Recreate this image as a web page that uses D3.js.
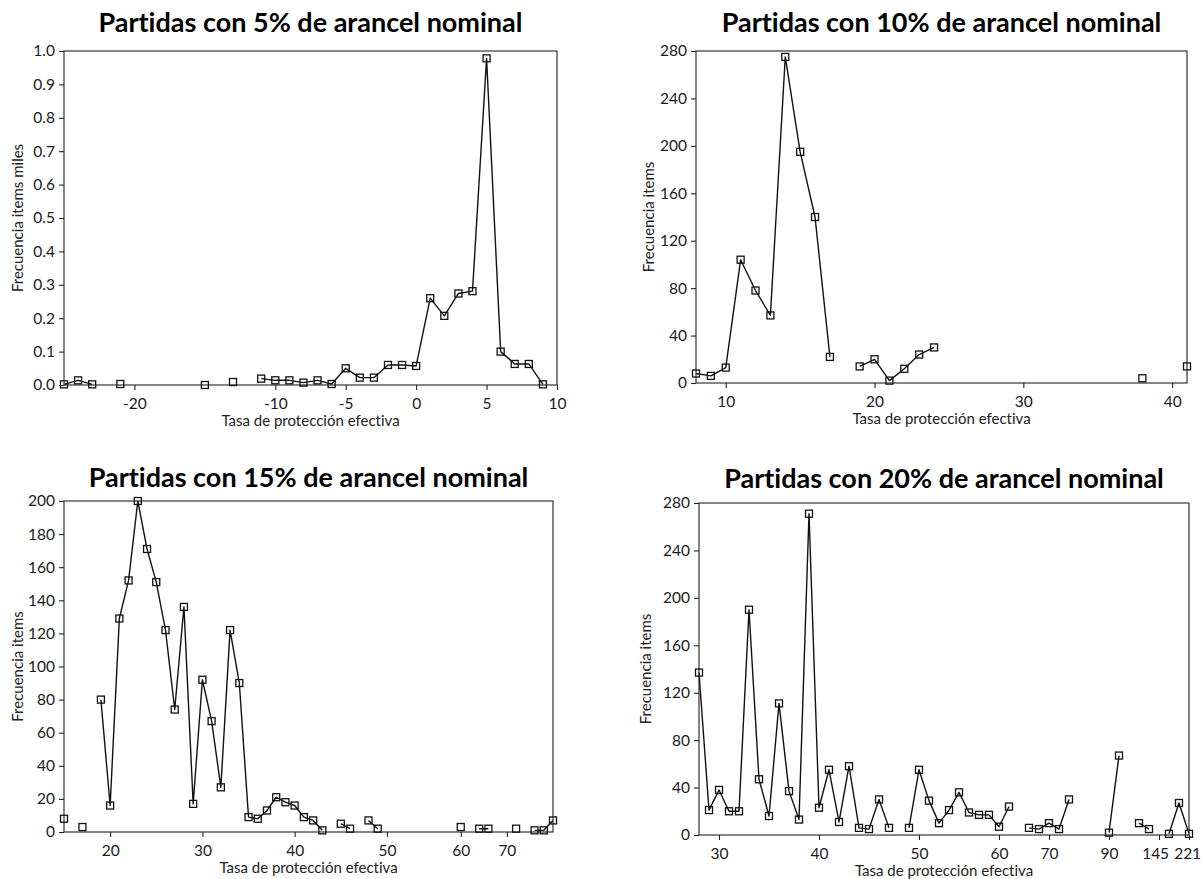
<!DOCTYPE html>
<html>
<head>
<meta charset="utf-8">
<script src="https://cdn.jsdelivr.net/npm/d3@7"></script>
<style>
  html, body { margin: 0; padding: 0; background: #fff; }
  svg { display: block; font-variant-ligatures: none; }
  .tick text { font-family: Lato, "Open Sans", sans-serif; font-size: 15.5px; fill: #1a1a1a; }
  .title { font-family: Lato, sans-serif; font-weight: 700; font-size: 27px; fill: #000; font-variant-ligatures: none; }
  .alabel { font-family: Lato, sans-serif; font-size: 15px; fill: #222; }
</style>
</head>
<body>
<svg id="chart" width="1201" height="879"></svg>
<script>
// ---------- DATA ----------
// Panel 1: 5% nominal tariff (frequency in thousands)
const p1Categories = [-25,-24,-23,-22,-21,-20,-19,-18,-17,-16,-15,-14,-13,-12,-11,-10,-9,-8,-7,-6,-5,-4,-3,-2,-1,0,1,2,3,4,5,6,7,8,9,10];
const p1Values = [0.002,0.014,0.002,null,0.003,null,null,null,null,null,0.000,null,0.009,null,0.019,0.014,0.014,0.007,0.014,0.003,0.050,0.022,0.022,0.060,0.060,0.057,0.260,0.207,0.274,0.281,0.978,0.100,0.063,0.063,0.002,null];
const p1TickLabels = [-20,-10,-5,0,5,10];
const p1YTicks = [0,0.1,0.2,0.3,0.4,0.5,0.6,0.7,0.8,0.9,1.0];

// Panel 2: 10% nominal tariff
const p2Categories = [8,9,10,11,12,13,14,15,16,17,18,19,20,21,22,23,24,25,26,27,28,29,30,31,32,33,34,35,36,37,38,39,40,41];
const p2Values = [8,6,13,104,78,57,275,195,140,22,null,14,20,2,12,24,30,null,null,null,null,null,null,null,null,null,null,null,null,null,4,null,null,14];
const p2TickLabels = [10,20,30,40];
const p2YTicks = [0,40,80,120,160,200,240,280];

// Panel 3: 15% nominal tariff
const p3Categories = [15,16,17,18,19,20,21,22,23,24,25,26,27,28,29,30,31,32,33,34,35,36,37,38,39,40,41,42,43,44,45,46,47,48,49,50,51,52,53,54,55,56,57,60,62,64,65,67,70,71,73,75,76,78];
const p3Values = [8,null,3,null,80,16,129,152,200,171,151,122,74,136,17,92,67,27,122,90,9,8,13,21,18,16,9,7,1,null,5,2,null,7,2,null,null,null,null,null,null,null,null,3,null,2,2,null,null,2,null,1,1,7];
const p3TickLabels = [20,30,40,50,60,70];
const p3YTicks = [0,20,40,60,80,100,120,140,160,180,200];

// Panel 4: 20% nominal tariff
const p4Categories = [28,29,30,31,32,33,34,35,36,37,38,39,40,41,42,43,44,45,46,47,48,49,50,51,52,53,54,55,56,57,60,61,63,65,67,70,72,75,80,83,85,90,92,100,110,120,145,160,180,221];
const p4Values = [137,21,38,20,20,190,47,16,111,37,13,271,23,55,11,58,6,5,30,6,null,6,55,29,10,21,36,19,17,17,7,24,null,6,5,10,5,30,null,null,null,2,67,null,10,5,null,1,27,1];
const p4TickLabels = [30,40,50,60,70,90,145,221];
const p4YTicks = [0,40,80,120,160,200,240,280];

const titles = [
  "Partidas con 5% de arancel nominal",
  "Partidas con 10% de arancel nominal",
  "Partidas con 15% de arancel nominal",
  "Partidas con 20% de arancel nominal"
];
const yLabels = ["Frecuencia items miles", "Frecuencia items", "Frecuencia items", "Frecuencia items"];
const xLabel = "Tasa de protección efectiva";

// ---------- LAYOUT ----------
const panels = [
  {cats: p1Categories, vals: p1Values, xt: p1TickLabels, yt: p1YTicks, ymax: 1.0, fmt: d3.format(".1f"),
   box: {l: 64, t: 51, r: 557, b: 385}, ylx: 23, tdy: 19},
  {cats: p2Categories, vals: p2Values, xt: p2TickLabels, yt: p2YTicks, ymax: 280, fmt: d3.format("d"),
   box: {l: 696, t: 51, r: 1187, b: 383}, ylx: 654, tdy: 19},
  {cats: p3Categories, vals: p3Values, xt: p3TickLabels, yt: p3YTicks, ymax: 200, fmt: d3.format("d"),
   box: {l: 64, t: 501, r: 553, b: 832}, ylx: 23, tdy: 14},
  {cats: p4Categories, vals: p4Values, xt: p4TickLabels, yt: p4YTicks, ymax: 280, fmt: d3.format("d"),
   box: {l: 699, t: 503, r: 1189, b: 835}, ylx: 651, tdy: 15}
];

const svg = d3.select("#chart");

panels.forEach((p, i) => {
  const {l, t, r, b} = p.box;
  const g = svg.append("g");
  const x = d3.scalePoint().domain(p.cats).range([l, r]).padding(0);
  const y = d3.scaleLinear().domain([0, p.ymax]).range([b, t]);

  // frame
  g.append("rect").attr("x", l).attr("y", t).attr("width", r - l).attr("height", b - t)
    .attr("fill", "none").attr("stroke", "#222").attr("stroke-width", 1.1);

  // axes
  const yAxis = g.append("g").attr("transform", `translate(${l},0)`)
    .call(d3.axisLeft(y).tickValues(p.yt).tickFormat(p.fmt).tickSize(5).tickSizeOuter(0).tickPadding(4));
  yAxis.select(".domain").remove();
  yAxis.selectAll(".tick line").attr("stroke", "#222").attr("stroke-width", 1.1);

  const xAxis = g.append("g").attr("transform", `translate(0,${b})`)
    .call(d3.axisBottom(x).tickValues(p.xt).tickSize(5).tickSizeOuter(0).tickPadding(8));
  xAxis.select(".domain").remove();
  xAxis.selectAll(".tick line").attr("stroke", "#222").attr("stroke-width", 1.1);
  // keep a label sitting on the right frame inside the page
  xAxis.selectAll(".tick text").filter(d => x(d) + 15 > 1201).attr("text-anchor", "end").attr("dx", "0.75em");
  // nudge a label left when the next tick is very close
  xAxis.selectAll(".tick text").filter((d, k) => k < p.xt.length - 1 && x(p.xt[k + 1]) - x(d) < 36)
    .attr("dx", "-0.25em");

  // title
  g.append("text").attr("class", "title")
    .attr("x", (l + r) / 2).attr("y", t - p.tdy).attr("text-anchor", "middle").text(titles[i]);

  // y label
  g.append("text").attr("class", "alabel")
    .attr("transform", `translate(${p.ylx},${(t + b) / 2}) rotate(-90)`)
    .attr("text-anchor", "middle").text(yLabels[i]);

  // x label
  g.append("text").attr("class", "alabel")
    .attr("x", (l + r) / 2).attr("y", b + 41).attr("text-anchor", "middle").text(xLabel);

  // data
  const pts = p.cats.map((c, k) => ({c, v: p.vals[k]}));
  const line = d3.line().defined(d => d.v !== null).x(d => x(d.c)).y(d => y(d.v));
  g.append("path").datum(pts).attr("d", line)
    .attr("fill", "none").attr("stroke", "#111").attr("stroke-width", 1.4).attr("stroke-linejoin", "round");

  const s = 7;
  g.selectAll("rect.mk").data(pts.filter(d => d.v !== null)).join("rect")
    .attr("class", "mk")
    .attr("x", d => x(d.c) - s / 2).attr("y", d => y(d.v) - s / 2)
    .attr("width", s).attr("height", s)
    .attr("fill", "none").attr("stroke", "#111").attr("stroke-width", 1.3);
});
</script>
</body>
</html>
